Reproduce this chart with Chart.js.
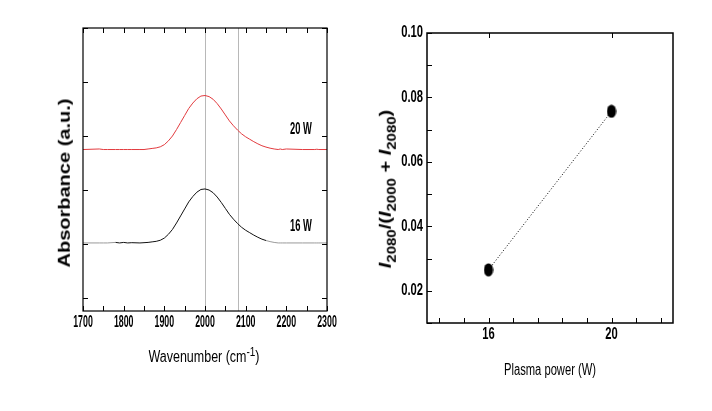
<!DOCTYPE html>
<html>
<head>
<meta charset="utf-8">
<script src="https://cdn.jsdelivr.net/npm/chart.js@4.4.0/dist/chart.umd.min.js"></script>
<style>
  html, body { margin: 0; padding: 0; background: #fff; }
  #page { position: relative; width: 712px; height: 411px; overflow: hidden; }
  .box { position: absolute; top: 0; width: 356px; height: 411px; }
  #leftBox { left: 0; }
  #rightBox { left: 356px; }
  .lbl { position: absolute; white-space: nowrap; color: #000; line-height: 1; }
  #absTitle {
    left: 65px; top: 183px; transform: translate(-50%, -50%) rotate(-90deg) scaleY(0.8);
    font: bold 20px "Liberation Sans", Arial, sans-serif;
  }
  #wnTitle {
    left: 204px; top: 357px; transform: translate(-50%, -50%) scaleX(0.78);
    font: 16px "Liberation Sans", Arial, sans-serif;
  }
  #wnTitle sup { font-size: 0.8em; vertical-align: 0.45em; line-height: 0; }
  #ratioTitle {
    left: 386px; top: 189px; transform: translate(-50%, -50%) rotate(-90deg) scaleY(0.8);
    font: bold 20px "Liberation Sans", Arial, sans-serif;
  }
  #ratioTitle sub { font-size: 0.75em; vertical-align: -0.35em; line-height: 0; }
</style>
</head>
<body>
<div id="page">
  <div class="box" id="leftBox"><canvas id="spectra" width="356" height="411"></canvas></div>
  <div class="box" id="rightBox"><canvas id="ratio" width="356" height="411"></canvas></div>
  <div class="lbl" id="absTitle">Absorbance (a.u.)</div>
  <div class="lbl" id="wnTitle">Wavenumber (cm<sup>-1</sup>)</div>
  <div class="lbl" id="ratioTitle"><i>I</i><sub>2080</sub>/(<i>I</i><sub>2000</sub> + <i>I</i><sub>2080</sub>)</div>
</div>
<script>
// --- data ---
const wavenumber = [1700, 1740, 1750, 1760, 1780, 1790, 1800, 1810, 1820, 1840,
  1850, 1860, 1870, 1880, 1890, 1900, 1910, 1920, 1930, 1940,
  1950, 1960, 1970, 1980, 1990, 2000, 2010, 2020, 2030, 2040,
  2050, 2060, 2070, 2080, 2090, 2100, 2110, 2120, 2130, 2140,
  2150, 2160, 2170, 2180, 2185, 2190, 2200, 2240, 2270, 2275, 2280, 2300];

const absorb20W = [2.75, 2.76, 2.75, 2.75, 2.75, 2.75, 2.75, 2.75, 2.75, 2.75,
  2.75, 2.76, 2.77, 2.78, 2.80, 2.84, 2.91, 3.00, 3.12, 3.25,
  3.38, 3.51, 3.61, 3.69, 3.74, 3.75, 3.73, 3.68, 3.60, 3.50,
  3.39, 3.28, 3.19, 3.11, 3.04, 2.985, 2.94, 2.895, 2.855, 2.82,
  2.795, 2.775, 2.76, 2.75, 2.76, 2.75, 2.76, 2.75, 2.75, 2.755, 2.75, 2.75];

const absorb16W = [1.02, 1.02, 1.02, 1.02, 1.03, 1.02, 1.03, 1.02, 1.025, 1.02,
  1.025, 1.03, 1.04, 1.05, 1.07, 1.11, 1.18, 1.27, 1.39, 1.52,
  1.65, 1.78, 1.88, 1.96, 2.01, 2.02, 2.00, 1.95, 1.87, 1.77,
  1.66, 1.55, 1.46, 1.38, 1.31, 1.255, 1.21, 1.165, 1.125, 1.09,
  1.065, 1.045, 1.03, 1.02, 1.02, 1.02, 1.02, 1.02, 1.02, 1.02, 1.02, 1.02];

const seriesNames = ['20 W', '16 W'];
const refLines = [2000, 2080];
const absTicks = [0, 1, 2, 3, 4, 5];

const plasmaPower = [16, 20];
const peakRatio = [0.0265, 0.0757];
const powerTicks = [14.4, 15.2, 16, 16.8, 17.6, 18.4, 19.2, 20, 20.8, 21.6];
const powerLabels = [16, 20];

const SANS = '"Liberation Sans", Arial, sans-serif';
const RED = '#e23b3f';
const INK = '#111111';
const GREY = '#9a9a9a';

// the original uses a very condensed face: squeeze horizontal text drawn on the canvas
function narrowText(k) {
  return {
    id: 'narrowText',
    beforeInit(chart) {
      const ctx = chart.ctx;
      const fill = ctx.fillText.bind(ctx);
      ctx.fillText = function (text, x, y, maxWidth) {
        const m = ctx.getTransform();
        if (Math.abs(m.b) > 1e-6) return fill(text, x, y);
        ctx.save();
        ctx.translate(x, y);
        ctx.scale(k, 1);
        fill(text, 0, 0);
        ctx.restore();
      };
    }
  };
}

// box frame + inward tick marks (Origin style)
function frameTicks(cfg) {
  return {
    id: 'frameTicks',
    beforeDatasetsDraw(chart) {
      if (!cfg.refLines) return;
      const { ctx, chartArea: a, scales } = chart;
      ctx.save();
      ctx.strokeStyle = '#b8b8b8';
      ctx.lineWidth = 1;
      cfg.refLines.forEach(v => {
        const px = Math.round(scales.x.getPixelForValue(v)) + 0.5;
        ctx.beginPath();
        ctx.moveTo(px, a.top);
        ctx.lineTo(px, a.bottom);
        ctx.stroke();
      });
      ctx.restore();
    },
    afterDatasetsDraw(chart) {
      const { ctx, chartArea: a, scales } = chart;
      const len = 5;
      ctx.save();
      ctx.strokeStyle = '#000';
      ctx.lineWidth = 1;
      ctx.beginPath();
      scales.x.ticks.forEach(t => {
        const px = Math.round(scales.x.getPixelForValue(t.value)) + 0.5;
        ctx.moveTo(px, a.bottom);
        ctx.lineTo(px, a.bottom - len);
        if (!cfg.topTicks || cfg.topTicks.includes(t.value)) {
          ctx.moveTo(px, a.top);
          ctx.lineTo(px, a.top + len);
        }
      });
      scales.y.ticks.forEach(t => {
        const py = Math.round(scales.y.getPixelForValue(t.value)) + 0.5;
        ctx.moveTo(a.left, py);
        ctx.lineTo(a.left + len, py);
        if (cfg.rightTicks) {
          ctx.moveTo(a.right, py);
          ctx.lineTo(a.right - len, py);
        }
      });
      ctx.stroke();
      ctx.lineWidth = cfg.frameWidth;
      ctx.strokeRect(a.left, a.top, a.right - a.left, a.bottom - a.top);

      if (cfg.notes) {
        ctx.fillStyle = '#000';
        ctx.font = 'bold 17px ' + SANS;
        ctx.textAlign = 'center';
        ctx.textBaseline = 'middle';
        cfg.notes.forEach(n => {
          ctx.fillText(n.text, scales.x.getPixelForValue(n.x), scales.y.getPixelForValue(n.y));
        });
      }
      ctx.restore();
    }
  };
}

// ---------- left: IR spectra ----------
new Chart(document.getElementById('spectra'), {
  type: 'line',
  data: {
    datasets: [
      {
        label: seriesNames[0],
        data: wavenumber.map((x, i) => ({ x, y: absorb20W[i] })),
        borderColor: RED,
        borderWidth: 1,
        pointRadius: 0,
        tension: 0
      },
      {
        label: seriesNames[1],
        data: wavenumber.map((x, i) => ({ x, y: absorb16W[i] })),
        borderColor: INK,
        borderWidth: 1,
        pointRadius: 0,
        tension: 0,
        segment: {
          borderColor: c => (c.p0.parsed.x < 1770 || c.p0.parsed.x >= 2150) ? GREY : INK
        }
      }
    ]
  },
  options: {
    responsive: false,
    animation: false,
    events: [],
    layout: { padding: { left: 0, top: 28, right: 29, bottom: 0 } },
    plugins: { legend: { display: false }, tooltip: { enabled: false } },
    scales: {
      x: {
        type: 'linear',
        min: 1700,
        max: 2300,
        grid: { display: false, drawTicks: false },
        border: { display: false },
        ticks: {
          stepSize: 50,
          autoSkip: false,
          maxRotation: 0,
          padding: 2,
          color: '#000',
          font: { family: SANS, size: 16, weight: 'bold' },
          callback: v => (v % 100 === 0 ? String(v) : '')
        },
        afterFit: s => { s.height = 100; }
      },
      y: {
        type: 'linear',
        min: -0.24,
        max: 5,
        afterBuildTicks: s => { s.ticks = absTicks.map(v => ({ value: v })); },
        grid: { display: false, drawTicks: false },
        border: { display: false },
        ticks: { display: false },
        afterFit: s => { s.width = 83; }
      }
    }
  },
  plugins: [narrowText(0.55), frameTicks({
    refLines: refLines,
    rightTicks: true,
    frameWidth: 1.2,
    notes: [
      { text: seriesNames[0], x: 2236, y: 3.12 },
      { text: seriesNames[1], x: 2236, y: 1.32 }
    ]
  })]
});

// ---------- right: peak ratio vs plasma power ----------
const dot = document.createElement('canvas');
dot.width = 10;
dot.height = 14;
const dctx = dot.getContext('2d');
dctx.fillStyle = '#000';
dctx.beginPath();
dctx.ellipse(5, 7, 4.6, 6.6, 0, 0, Math.PI * 2);
dctx.fill();

new Chart(document.getElementById('ratio'), {
  type: 'line',
  data: {
    datasets: [{
      data: plasmaPower.map((x, i) => ({ x, y: peakRatio[i] })),
      borderColor: '#000',
      borderWidth: 1,
      borderDash: [1, 2],
      pointStyle: dot,
      pointRadius: 6,
      tension: 0
    }]
  },
  options: {
    responsive: false,
    animation: false,
    events: [],
    layout: { padding: { left: 0, top: 33, right: 39, bottom: 0 } },
    plugins: { legend: { display: false }, tooltip: { enabled: false } },
    scales: {
      x: {
        type: 'linear',
        min: 14,
        max: 22,
        afterBuildTicks: s => { s.ticks = powerTicks.map(v => ({ value: v })); },
        grid: { display: false, drawTicks: false },
        border: { display: false },
        ticks: {
          autoSkip: false,
          maxRotation: 0,
          padding: 2,
          color: '#000',
          font: { family: SANS, size: 16, weight: 'bold' },
          callback: v => (powerLabels.includes(v) ? String(v) : '')
        },
        title: {
          display: true,
          text: 'Plasma power (W)',
          color: '#000',
          font: { family: SANS, size: 16 },
          padding: { top: 0, bottom: 31 }
        },
        afterFit: s => { s.height = 88; }
      },
      y: {
        type: 'linear',
        min: 0.01,
        max: 0.10,
        grid: { display: false, drawTicks: false },
        border: { display: false },
        ticks: {
          stepSize: 0.01,
          autoSkip: false,
          padding: 4,
          color: '#000',
          font: { family: SANS, size: 16, weight: 'bold' },
          callback: v => (Math.round(v * 100) % 2 === 0 ? v.toFixed(2) : '')
        },
        afterFit: s => { s.width = 71; }
      }
    }
  },
  plugins: [narrowText(0.7), frameTicks({
    topTicks: powerLabels,
    rightTicks: false,
    frameWidth: 1.5
  })]
});
</script>
</body>
</html>
